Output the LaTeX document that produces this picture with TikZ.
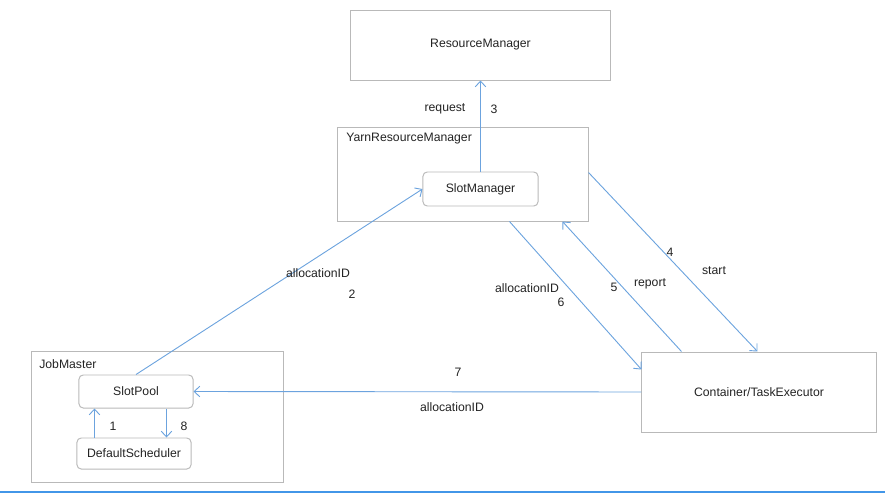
\documentclass[tikz,border=0pt]{standalone}
\usepackage{fontspec}
\setmainfont{Liberation Sans}
\usepackage{xcolor}
\usetikzlibrary{arrows.meta, calc, positioning}

\definecolor{arrowblue}{RGB}{108,163,222}
\definecolor{boxgray}{RGB}{185,185,185}
\definecolor{txtgray}{RGB}{35,35,35}
\definecolor{barblue}{RGB}{66,150,232}

\tikzset{
  box/.style={draw=boxgray, line width=0.7pt, inner sep=0pt},
  rbox/.style={box, rounded corners=3pt},
  flow/.style={draw=arrowblue, line width=0.65pt, -{Straight Barb[length=4pt,width=7.5pt]}},
  lbl/.style={inner sep=0pt, text=txtgray, font=\fontsize{8.7}{10}\selectfont}
}

\begin{document}
\begin{tikzpicture}[x=0.025cm, y=-0.025cm, font=\fontsize{8.7}{10}\selectfont, text=txtgray]
      \useasboundingbox (0,0) rectangle (896,494);

      % boxes
      \node[box, minimum width=6.475cm, minimum height=1.75cm] (rm) at (480.5,45) {ResourceManager};
      \node[box, minimum width=6.25cm, minimum height=2.325cm] (yrm) at (463,174.5) {};
      \node[lbl, anchor=west] (yrmlbl) at (346,139) {YarnResourceManager};
      \node[rbox, minimum width=2.875cm, minimum height=0.85cm] (sm) at (480.5,189) {SlotManager};

      \node[box, minimum width=6.275cm, minimum height=3.25cm] (jm) at (157.5,417) {};
      \node[lbl, anchor=west] (jmlbl) at (39,364) {JobMaster};
      \node[rbox, minimum width=2.85cm, minimum height=0.825cm] (sp) at (136,391.5) {SlotPool};
      \node[rbox, minimum width=2.85cm, minimum height=0.775cm] (ds) at (134,453.5) {DefaultScheduler};

      \node[box, minimum width=5.85cm, minimum height=2cm] (ct) at (759,392) {Container/TaskExecutor};

      % connectors
      \draw[flow] (sm.north) -- (rm.south);
      \draw[flow] (sp.north) -- (sm.west);

      \coordinate (one) at ($(ds.north west)+(18,0)$);
      \draw[flow] (one) -- (one |- sp.south);
      \coordinate (eight) at ($(sp.south west)+(88,0)$);
      \draw[flow] (eight) -- (eight |- ds.north);

      \draw[flow] (ct.west) -- (sp.east);

      \coordinate (sixa) at ($(yrm.south west)+(172,0)$);
      \coordinate (sixb) at ($(ct.north west)+(0,18)$);
      \draw[flow] (sixa) -- (sixb);
      \coordinate (fivea) at ($(ct.north west)+(40,0)$);
      \coordinate (fiveb) at ($(yrm.south west)+(225,0)$);
      \draw[flow] (fivea) -- (fiveb);
      \coordinate (foura) at ($(yrm.north east)+(0,45)$);
      \coordinate (fourb) at ($(ct.north west)+(116,0)$);
      \draw[flow] (foura) -- (fourb);

      % labels
      \node[lbl] (req) at (445,109) {request};
      \node[lbl] (n3) at (494,109) {3};
      \node[lbl] (al2) at (318,273) {allocationID};
      \node[lbl] (n2) at (352,294) {2};
      \node[lbl] (n1) at (113,426) {1};
      \node[lbl] (n8) at (184,426) {8};
      \node[lbl] (n7) at (458,372) {7};
      \node[lbl] (al7) at (452,407) {allocationID};
      \node[lbl] (al6) at (527,288) {allocationID};
      \node[lbl] (n6) at (561,302) {6};
      \node[lbl] (n5) at (614,287) {5};
      \node[lbl] (rep) at (650,284) {report};
      \node[lbl] (n4) at (670,252) {4};
      \node[lbl] (st) at (714,271) {start};

      % bottom bar
      \draw[barblue, line width=2pt] (0,492) -- (885,492);
\end{tikzpicture}
\end{document}
